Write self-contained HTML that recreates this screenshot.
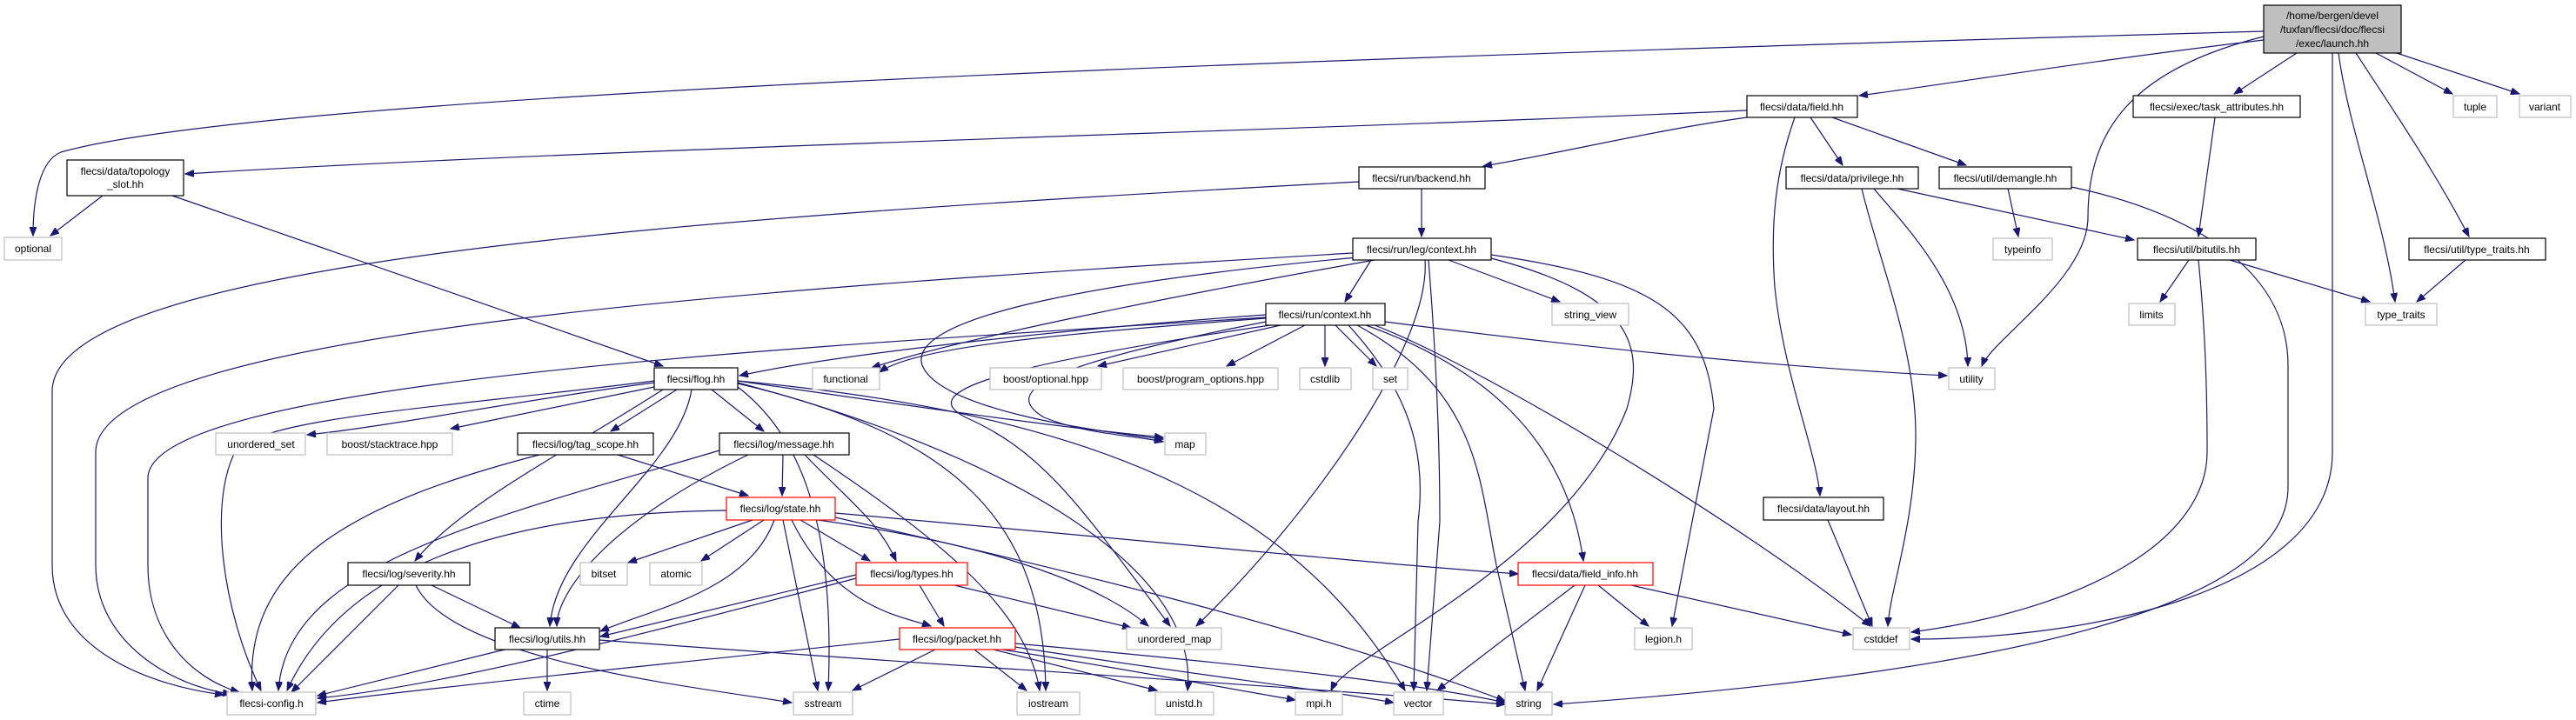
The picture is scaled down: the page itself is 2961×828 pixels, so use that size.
<!DOCTYPE html>
<html><head><meta charset="utf-8"><style>
html,body{margin:0;padding:0;background:#fff;}
svg{display:block;}
text{font-family:"Liberation Sans",sans-serif;font-size:12px;fill:#000;}
.e{fill:none;stroke:#191970;stroke-width:1.2;marker-end:url(#a);}
.n{fill:#fff;stroke:#000;stroke-width:1.2;}
.g{fill:#fff;stroke:#bfbfbf;stroke-width:1.2;}
.r{fill:#fff;stroke:#ff0000;stroke-width:1.2;}
</style></head><body>
<svg width="2961" height="828" viewBox="0 0 2961 828" xmlns="http://www.w3.org/2000/svg">
<defs><marker id="a" markerWidth="11" markerHeight="8" refX="10" refY="4" orient="auto" markerUnits="userSpaceOnUse"><path d="M0,0 L10,4 L0,8 z" fill="#191970" stroke="#191970"/></marker></defs>
<g>
<path class="e" d="M2602,36 C1400,70 300,110 70,175 C45,185 38,230 38,271"/>
<path class="e" d="M2602,46 C2400,70 2250,95 2137,110"/>
<path class="e" d="M2602,42 C2450,80 2400,150 2400,250 C2400,320 2290,390 2278,421"/>
<path class="e" d="M2640,61 L2568,108"/>
<path class="e" d="M2681,61 L2681,520 C2681,680 2400,735 2197,735"/>
<path class="e" d="M2688,61 C2700,150 2740,250 2753,347"/>
<path class="e" d="M2708,61 C2760,140 2800,200 2838,272"/>
<path class="e" d="M2731,61 L2819,108"/>
<path class="e" d="M2755,61 L2896,108"/>
<path class="e" d="M2008,127 C1500,150 700,170 213,200"/>
<path class="e" d="M2008,135 C1900,150 1800,175 1705,191"/>
<path class="e" d="M2081,135 L2118,190"/>
<path class="e" d="M2106,135 L2260,190"/>
<path class="e" d="M2063,135 C2040,200 2035,260 2040,330 C2050,430 2088,520 2092,570"/>
<path class="e" d="M118,225 L58,271"/>
<path class="e" d="M198,225 L762,421"/>
<path class="e" d="M1634,217 L1634,272"/>
<path class="e" d="M1562,209 C800,250 60,300 60,450 L60,650 C60,750 180,790 257,799"/>
<path class="e" d="M2181,217 L2453,276"/>
<path class="e" d="M2140,217 C2160,300 2202,400 2202,500 C2202,600 2172,680 2170,720"/>
<path class="e" d="M2154,217 C2190,260 2260,330 2262,421"/>
<path class="e" d="M2308,217 L2320,272"/>
<path class="e" d="M2381,215 C2500,240 2630,300 2630,420 L2630,560 C2630,650 2500,760 1786,810"/>
<path class="e" d="M2546,135 L2527,272"/>
<path class="e" d="M2516,299 L2483,347"/>
<path class="e" d="M2563,299 L2724,347"/>
<path class="e" d="M2527,299 C2535,380 2537,450 2537,520 C2537,620 2400,700 2197,727"/>
<path class="e" d="M2834,299 L2778,347"/>
<path class="e" d="M1576,299 L1546,347"/>
<path class="e" d="M1665,299 L1793,347"/>
<path class="e" d="M1555,291 C900,330 110,380 110,520 L110,650 C110,740 200,790 266,798"/>
<path class="e" d="M1580,299 C1350,340 1100,390 1002,423"/>
<path class="e" d="M1560,296 C1300,320 1040,360 1060,420 C1080,470 1250,495 1337,505"/>
<path class="e" d="M1638,299 C1645,400 1500,600 1375,720"/>
<path class="e" d="M1714,297 C1880,340 1890,400 1870,470 C1800,650 1550,750 1530,794"/>
<path class="e" d="M1714,293 C1900,320 1960,360 1970,470 L1922,720"/>
<path class="e" d="M1642,299 C1650,400 1655,500 1655,600 L1640,794"/>
<path class="e" d="M1455,362 C1200,380 950,410 850,432"/>
<path class="e" d="M1455,366 C1200,385 1050,400 1011,428"/>
<path class="e" d="M1455,365 C900,400 170,440 170,550 L170,650 C170,730 220,780 275,796"/>
<path class="e" d="M1455,370 C1200,420 1150,450 1200,480 C1250,500 1300,500 1337,508"/>
<path class="e" d="M1472,374 L1262,421"/>
<path class="e" d="M1500,374 L1410,421"/>
<path class="e" d="M1523,374 L1523,421"/>
<path class="e" d="M1535,374 L1582,421"/>
<path class="e" d="M1592,370 C1900,410 2100,425 2238,432"/>
<path class="e" d="M1570,374 C1700,420 1800,500 1820,645"/>
<path class="e" d="M1560,374 C1700,450 1700,550 1720,650 L1753,794"/>
<path class="e" d="M1550,374 C1620,450 1640,520 1630,600 L1625,794"/>
<path class="e" d="M1580,374 C1700,420 2000,600 2150,720"/>
<path class="e" d="M1460,374 C1150,420 1050,450 1110,480 C1200,520 1240,580 1345,720"/>
<path class="e" d="M752,440 C600,460 450,490 353,500"/>
<path class="e" d="M752,445 L518,493"/>
<path class="e" d="M778,448 L702,496"/>
<path class="e" d="M818,448 L878,496"/>
<path class="e" d="M762,448 C650,520 530,580 477,645"/>
<path class="e" d="M795,448 C780,540 640,620 632,720"/>
<path class="e" d="M752,438 C500,470 300,480 270,520 C240,580 255,700 300,794"/>
<path class="e" d="M848,438 C1000,460 1200,490 1337,503"/>
<path class="e" d="M848,445 C920,500 960,600 952,794"/>
<path class="e" d="M848,441 C1100,500 1200,600 1202,794"/>
<path class="e" d="M848,440 C1150,520 1380,650 1365,794"/>
<path class="e" d="M848,438 C1300,480 1500,600 1615,794"/>
<path class="e" d="M710,523 L860,570"/>
<path class="e" d="M620,523 C400,580 280,650 290,794"/>
<path class="e" d="M900,523 L899,570"/>
<path class="e" d="M925,523 C980,580 1010,600 1030,645"/>
<path class="e" d="M860,523 C700,600 640,680 640,720"/>
<path class="e" d="M827,518 C550,600 330,650 320,794"/>
<path class="e" d="M935,523 C1080,620 1180,700 1195,794"/>
<path class="e" d="M865,598 L722,647"/>
<path class="e" d="M878,598 L806,645"/>
<path class="e" d="M890,598 C860,680 750,700 690,726"/>
<path class="e" d="M920,598 L1000,645"/>
<path class="e" d="M910,598 C960,700 1040,710 1070,720"/>
<path class="e" d="M835,587 C600,590 400,640 330,794"/>
<path class="e" d="M900,598 L940,794"/>
<path class="e" d="M940,598 C1100,620 1250,660 1320,720"/>
<path class="e" d="M960,590 C1300,620 1600,650 1745,660"/>
<path class="e" d="M960,595 C1200,650 1500,720 1730,806"/>
<path class="e" d="M496,673 L598,722"/>
<path class="e" d="M458,673 L335,796"/>
<path class="e" d="M478,673 C520,760 800,790 910,808"/>
<path class="e" d="M984,661 L690,732"/>
<path class="e" d="M1057,673 L1085,720"/>
<path class="e" d="M1097,673 L1300,722"/>
<path class="e" d="M984,665 C700,740 500,790 365,803"/>
<path class="e" d="M1120,747 L1180,794"/>
<path class="e" d="M1142,747 L1330,794"/>
<path class="e" d="M1152,747 C1300,770 1400,790 1489,805"/>
<path class="e" d="M1160,743 C1400,780 1500,790 1602,808"/>
<path class="e" d="M1167,740 C1500,770 1650,790 1730,808"/>
<path class="e" d="M1075,747 L980,794"/>
<path class="e" d="M1034,735 C800,760 500,790 365,808"/>
<path class="e" d="M629,747 L629,794"/>
<path class="e" d="M580,747 L365,800"/>
<path class="e" d="M689,736 C1000,760 1500,790 1730,810"/>
<path class="e" d="M1837,673 L1895,720"/>
<path class="e" d="M1810,673 L1652,794"/>
<path class="e" d="M1822,673 L1767,794"/>
<path class="e" d="M1875,673 L2128,730"/>
<path class="e" d="M2101,598 L2152,720"/>
</g>
<g>
<rect x="2602" y="6" width="158" height="55" fill="#bfbfbf" stroke="#000" stroke-width="1.2"/>
<text x="2681" y="22" text-anchor="middle">/home/bergen/devel</text>
<text x="2681" y="38" text-anchor="middle">/tuxfan/flecsi/doc/flecsi</text>
<text x="2681" y="54" text-anchor="middle">/exec/launch.hh</text>

<rect class="g" x="5" y="273" width="66" height="26"/><text x="38" y="290" text-anchor="middle">optional</text>
<rect class="n" x="77" y="184" width="134" height="41"/><text x="144" y="201" text-anchor="middle">flecsi/data/topology</text><text x="144" y="216" text-anchor="middle">_slot.hh</text>
<rect class="n" x="2008" y="110" width="127" height="25"/><text x="2071" y="127" text-anchor="middle">flecsi/data/field.hh</text>
<rect class="n" x="2452" y="110" width="192" height="25"/><text x="2548" y="127" text-anchor="middle">flecsi/exec/task_attributes.hh</text>
<rect class="g" x="2820" y="110" width="50" height="25"/><text x="2845" y="127" text-anchor="middle">tuple</text>
<rect class="g" x="2896" y="110" width="59" height="25"/><text x="2925" y="127" text-anchor="middle">variant</text>
<rect class="n" x="1562" y="192" width="145" height="25"/><text x="1634" y="209" text-anchor="middle">flecsi/run/backend.hh</text>
<rect class="n" x="2053" y="192" width="152" height="25"/><text x="2129" y="209" text-anchor="middle">flecsi/data/privilege.hh</text>
<rect class="n" x="2229" y="192" width="152" height="25"/><text x="2305" y="209" text-anchor="middle">flecsi/util/demangle.hh</text>
<rect class="n" x="1555" y="274" width="159" height="25"/><text x="1634" y="291" text-anchor="middle">flecsi/run/leg/context.hh</text>
<rect class="g" x="2291" y="274" width="68" height="25"/><text x="2325" y="291" text-anchor="middle">typeinfo</text>
<rect class="n" x="2457" y="274" width="136" height="25"/><text x="2525" y="291" text-anchor="middle">flecsi/util/bitutils.hh</text>
<rect class="n" x="2769" y="274" width="157" height="25"/><text x="2847" y="291" text-anchor="middle">flecsi/util/type_traits.hh</text>
<rect class="n" x="1455" y="349" width="137" height="25"/><text x="1523" y="366" text-anchor="middle">flecsi/run/context.hh</text>
<rect class="g" x="1784" y="349" width="88" height="25"/><text x="1828" y="366" text-anchor="middle">string_view</text>
<rect class="g" x="2447" y="349" width="53" height="25"/><text x="2473" y="366" text-anchor="middle">limits</text>
<rect class="g" x="2719" y="349" width="82" height="25"/><text x="2760" y="366" text-anchor="middle">type_traits</text>
<rect class="n" x="752" y="423" width="96" height="25"/><text x="800" y="440" text-anchor="middle">flecsi/flog.hh</text>
<rect class="g" x="934" y="423" width="77" height="25"/><text x="972" y="440" text-anchor="middle">functional</text>
<rect class="g" x="1138" y="423" width="128" height="25"/><text x="1202" y="440" text-anchor="middle">boost/optional.hpp</text>
<rect class="g" x="1291" y="423" width="178" height="25"/><text x="1380" y="440" text-anchor="middle">boost/program_options.hpp</text>
<rect class="g" x="1494" y="423" width="59" height="25"/><text x="1523" y="440" text-anchor="middle">cstdlib</text>
<rect class="g" x="1578" y="423" width="40" height="25"/><text x="1598" y="440" text-anchor="middle">set</text>
<rect class="g" x="2240" y="423" width="53" height="25"/><text x="2266" y="440" text-anchor="middle">utility</text>
<rect class="g" x="1339" y="498" width="47" height="25"/><text x="1362" y="515" text-anchor="middle">map</text>
<rect class="g" x="248" y="498" width="103" height="25"/><text x="300" y="515" text-anchor="middle">unordered_set</text>
<rect class="g" x="376" y="498" width="144" height="25"/><text x="448" y="515" text-anchor="middle">boost/stacktrace.hpp</text>
<rect class="n" x="595" y="498" width="156" height="25"/><text x="673" y="515" text-anchor="middle">flecsi/log/tag_scope.hh</text>
<rect class="n" x="827" y="498" width="149" height="25"/><text x="901" y="515" text-anchor="middle">flecsi/log/message.hh</text>
<rect class="r" x="835" y="572" width="125" height="26"/><text x="897" y="589" text-anchor="middle">flecsi/log/state.hh</text>
<rect class="n" x="2027" y="572" width="138" height="26"/><text x="2096" y="589" text-anchor="middle">flecsi/data/layout.hh</text>
<rect class="n" x="400" y="647" width="140" height="26"/><text x="470" y="664" text-anchor="middle">flecsi/log/severity.hh</text>
<rect class="g" x="667" y="647" width="54" height="26"/><text x="694" y="664" text-anchor="middle">bitset</text>
<rect class="g" x="747" y="647" width="60" height="26"/><text x="777" y="664" text-anchor="middle">atomic</text>
<rect class="r" x="984" y="647" width="128" height="26"/><text x="1048" y="664" text-anchor="middle">flecsi/log/types.hh</text>
<rect class="r" x="1745" y="647" width="155" height="26"/><text x="1822" y="664" text-anchor="middle">flecsi/data/field_info.hh</text>
<rect class="n" x="569" y="722" width="120" height="25"/><text x="629" y="739" text-anchor="middle">flecsi/log/utils.hh</text>
<rect class="r" x="1034" y="722" width="133" height="25"/><text x="1100" y="739" text-anchor="middle">flecsi/log/packet.hh</text>
<rect class="g" x="1295" y="722" width="109" height="25"/><text x="1350" y="739" text-anchor="middle">unordered_map</text>
<rect class="g" x="1879" y="722" width="66" height="25"/><text x="1912" y="739" text-anchor="middle">legion.h</text>
<rect class="g" x="2130" y="722" width="65" height="25"/><text x="2162" y="739" text-anchor="middle">cstddef</text>
<rect class="g" x="261" y="796" width="102" height="26"/><text x="312" y="813" text-anchor="middle">flecsi-config.h</text>
<rect class="g" x="602" y="796" width="54" height="26"/><text x="629" y="813" text-anchor="middle">ctime</text>
<rect class="g" x="912" y="796" width="68" height="26"/><text x="946" y="813" text-anchor="middle">sstream</text>
<rect class="g" x="1169" y="796" width="72" height="26"/><text x="1205" y="813" text-anchor="middle">iostream</text>
<rect class="g" x="1328" y="796" width="67" height="26"/><text x="1361" y="813" text-anchor="middle">unistd.h</text>
<rect class="g" x="1489" y="796" width="54" height="26"/><text x="1516" y="813" text-anchor="middle">mpi.h</text>
<rect class="g" x="1602" y="796" width="57" height="26"/><text x="1630" y="813" text-anchor="middle">vector</text>
<rect class="g" x="1730" y="796" width="54" height="26"/><text x="1757" y="813" text-anchor="middle">string</text>
</g>
</svg>
</body></html>
